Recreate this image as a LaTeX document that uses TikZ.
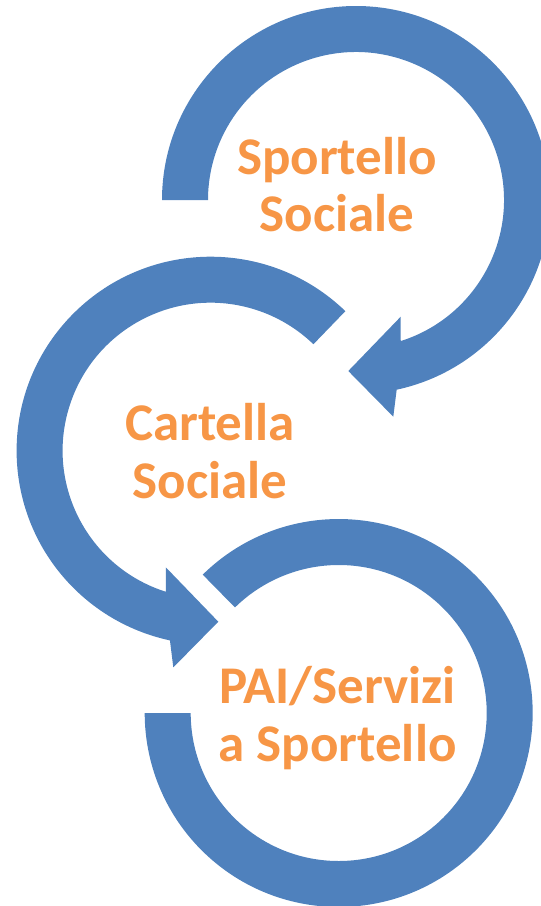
\documentclass[tikz,border=0pt]{standalone}
\usepackage{fontspec}
\setmainfont{Carlito}
\usetikzlibrary{calc}
\definecolor{arrowblue}{HTML}{4F81BD}
\definecolor{labelorange}{HTML}{F79646}
\begin{document}
\begin{tikzpicture}[x=1pt,y=1pt,
  ring/.style={fill=arrowblue},
  lbl/.style={text=labelorange, font=\fontsize{53}{58}\selectfont\bfseries, anchor=base, inner sep=0pt}]
\useasboundingbox (0,0) rectangle (541,-906);
\clip (0,0) rectangle (541,-906);
\coordinate (c1) at (356,-200);
\coordinate (c2) at (210.6,-450.7);
\coordinate (c3) at (338.7,-713);
% arrow 1 (Sportello Sociale), clockwise
\fill[ring] ($(c1)+(180:194)$) arc[start angle=180,end angle=-77.9,radius=194]
  -- ($(c1)+(37.3,-216.7)$) -- ($(c1)+(-7.7,-171)$) -- ($(c1)+(44.7,-116.7)$)
  -- ($(c1)+(-72.4:148)$) arc[start angle=-72.4,end angle=180,radius=148] -- cycle;
% arrow 2 (Cartella Sociale), counterclockwise
\fill[ring] ($(c2)+(46:194)$) arc[start angle=46,end angle=257.9,radius=194]
  -- ($(c2)+(-37.3,-216.7)$) -- ($(c2)+(7.7,-171)$) -- ($(c2)+(-44.7,-116.7)$)
  -- ($(c2)+(252.4:148)$) arc[start angle=252.4,end angle=46,radius=148] -- cycle;
% ring 3 (PAI/Servizi a Sportello)
\fill[ring] ($(c3)+(134.5:194)$) arc[start angle=134.5,end angle=-180,radius=194]
  -- ($(c3)+(180:148)$) arc[start angle=-180,end angle=134.5,radius=148] -- cycle;
% labels
\node[lbl] (s1a) at (337,-174) {Sportello};
\node[lbl] (s1b) at (337,-231) {Sociale};
\node[lbl] (s2a) at (210,-440) {Cartella};
\node[lbl] (s2b) at (210,-498) {Sociale};
\node[lbl] (s3a) at (337.5,-703.5) {PAI/Servizi};
\node[lbl] (s3b) at (337.5,-761.5) {a Sportello};
\end{tikzpicture}
\end{document}
